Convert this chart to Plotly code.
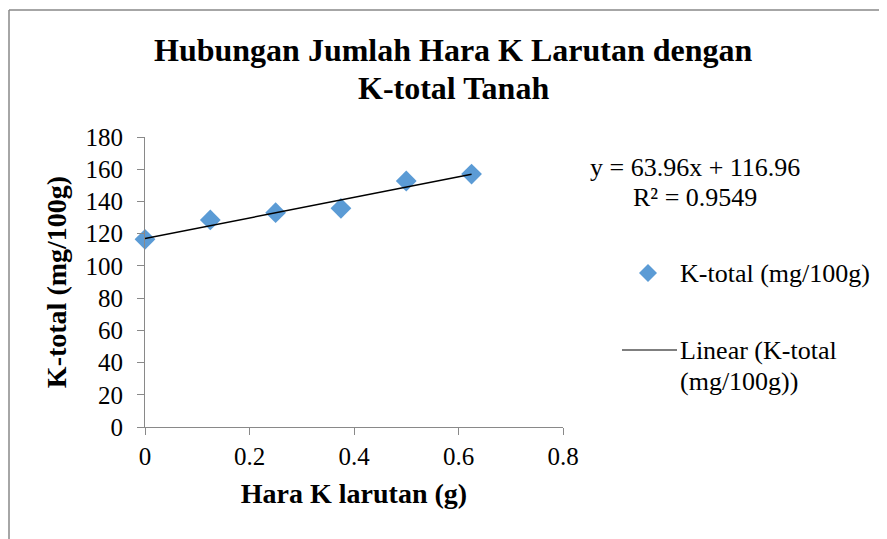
import plotly.graph_objects as go

# ---- data ----
hara_k = [0, 0.125, 0.25, 0.375, 0.5, 0.625]          # Hara K larutan (g)
k_total = [116.5, 128.5, 133.0, 135.7, 152.7, 157.0]  # K-total (mg/100g)
trend_slope = 63.96
trend_intercept = 116.96
trend_r2 = 0.9549
x_tick_vals = [0, 0.2, 0.4, 0.6, 0.8]
x_tick_text = ["0", "0.2", "0.4", "0.6", "0.8"]
y_tick_vals = [0, 20, 40, 60, 80, 100, 120, 140, 160, 180]

series_name = "K-total (mg/100g)"
trend_name = "Linear (K-total (mg/100g))"

# ---- layout geometry (page body has an 8px margin) ----
W, H = 887, 539
OFF = 8
PLOT_X0, PLOT_X1 = 145, 563   # target screen px of plot area
PLOT_Y0, PLOT_Y1 = 137, 427
L = PLOT_X0 - OFF
T = PLOT_Y0 - OFF
PW = PLOT_X1 - PLOT_X0
PH = PLOT_Y1 - PLOT_Y0
R = W - L - PW
B = H - T - PH
FONT = "Liberation Serif"
GRAY = "#898989"
BLUE = "#5B9BD5"


def px(x):
    """screen pixel x -> paper coordinate"""
    return (x - PLOT_X0) / PW


def py(y):
    """screen pixel y -> paper coordinate"""
    return (PLOT_Y1 - y) / PH


trend_x = [min(hara_k), max(hara_k)]
trend_y = [trend_slope * v + trend_intercept for v in trend_x]

fig = go.Figure()
fig.add_trace(go.Scatter(
    x=hara_k, y=k_total, mode="markers", name=series_name,
    marker=dict(symbol="diamond", size=16, color=BLUE, line=dict(width=0)),
    cliponaxis=False, showlegend=False,
))
fig.add_trace(go.Scatter(
    x=trend_x, y=trend_y, mode="lines", name=trend_name,
    line=dict(color="black", width=1.5), cliponaxis=False, showlegend=False,
))

shapes = [
    # outer chart frame (top and left edges visible)
    dict(type="line", xref="paper", yref="paper", x0=px(9), x1=px(W + 20), y0=py(10), y1=py(10),
         line=dict(color=GRAY, width=1.5)),
    dict(type="line", xref="paper", yref="paper", x0=px(9), x1=px(9), y0=py(10), y1=py(H + 20),
         line=dict(color=GRAY, width=1.5)),
    # legend: line sample
    dict(type="line", xref="paper", yref="paper", x0=px(622), x1=px(677), y0=py(350), y1=py(350),
         line=dict(color="black", width=1.2)),
]
# legend: diamond sample
cx, cy, hr = 648, 273, 9
shapes.append(dict(
    type="path", xref="paper", yref="paper",
    path=f"M {px(cx)} {py(cy - hr)} L {px(cx + hr)} {py(cy)} L {px(cx)} {py(cy + hr)} L {px(cx - hr)} {py(cy)} Z",
    fillcolor=BLUE, line=dict(width=0),
))

txt_font = dict(family=FONT, size=26, color="black")
annotations = [
    dict(text=f"y = {trend_slope}x + {trend_intercept}", x=px(695), y=py(167), xref="paper", yref="paper",
         xanchor="center", yanchor="middle", showarrow=False, font=txt_font),
    dict(text=f"R² = {trend_r2}", x=px(695), y=py(197), xref="paper", yref="paper",
         xanchor="center", yanchor="middle", showarrow=False, font=txt_font),
    dict(text=series_name, x=px(678), y=py(273), xref="paper", yref="paper",
         xanchor="left", yanchor="middle", showarrow=False, font=txt_font),
    dict(text="Linear (K-total", x=px(678), y=py(350), xref="paper", yref="paper",
         xanchor="left", yanchor="middle", showarrow=False, font=txt_font),
    dict(text="(mg/100g))", x=px(678), y=py(381), xref="paper", yref="paper",
         xanchor="left", yanchor="middle", showarrow=False, font=txt_font),
    dict(text="<b>Hubungan Jumlah Hara K Larutan dengan</b>", x=px(453.5), y=py(50), xref="paper", yref="paper",
         xanchor="center", yanchor="middle", showarrow=False, font=dict(family=FONT, size=32, color="black")),
    dict(text="<b>K-total Tanah</b>", x=px(453.5), y=py(88), xref="paper", yref="paper",
         xanchor="center", yanchor="middle", showarrow=False, font=dict(family=FONT, size=32, color="black")),
]

fig.update_layout(
    width=W, height=H,
    margin=dict(l=L, r=R, t=T, b=B, autoexpand=False),
    paper_bgcolor="white", plot_bgcolor="white",
    font=dict(family=FONT, color="black"),
    shapes=shapes, annotations=annotations, showlegend=False,
    xaxis=dict(range=[0, 0.8], tickvals=x_tick_vals, ticktext=x_tick_text,
               showgrid=False, zeroline=False, showline=True, linecolor=GRAY, linewidth=1,
               ticks="outside", ticklen=7, tickcolor=GRAY, tickwidth=1,
               tickfont=dict(family=FONT, size=25, color="black"),
               title=dict(text="<b>Hara K larutan (g)</b>", standoff=14,
                          font=dict(family=FONT, size=28, color="black"))),
    yaxis=dict(range=[0, 180], tickvals=y_tick_vals,
               showgrid=False, zeroline=False, showline=True, linecolor=GRAY, linewidth=1,
               ticks="outside", ticklen=7, tickcolor=GRAY, tickwidth=1, ticklabelstandoff=9,
               tickfont=dict(family=FONT, size=25, color="black"),
               title=dict(text="<b>K-total (mg/100g)</b>", standoff=10,
                          font=dict(family=FONT, size=28, color="black"))),
)

fig.write_html("out.html")
